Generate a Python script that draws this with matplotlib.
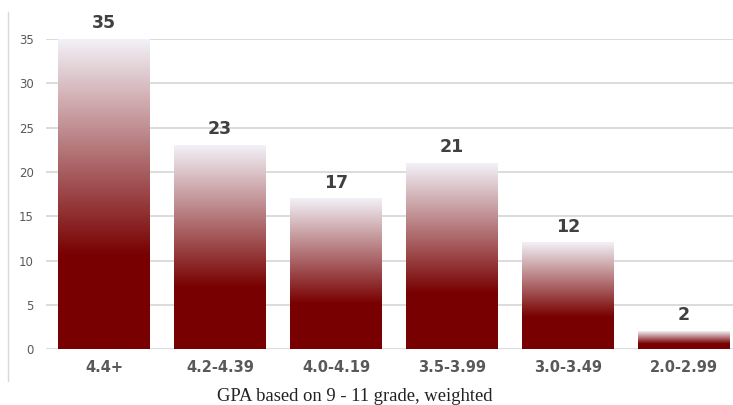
import numpy as np
import matplotlib.pyplot as plt
from matplotlib.colors import LinearSegmentedColormap
from matplotlib.lines import Line2D

plt.rcParams['font.family'] = ['DejaVu Sans']

# GPA ranges and number of students in each
gpa_ranges = ["4.4+", "4.2-4.39", "4.0-4.19", "3.5-3.99", "3.0-3.49", "2.0-2.99"]
counts = [35, 23, 17, 21, 12, 2]
y_ticks = [0, 5, 10, 15, 20, 25, 30, 35]
title = "GPA based on 9 - 11 grade, weighted"

# dark red at the bottom fading to near white at the top of each bar
grad = LinearSegmentedColormap.from_list(
    "bar_grad", [(0.0, "#780000"), (0.3, "#780000"), (1.0, "#f2f1f7")])

fig = plt.figure(figsize=(7.33, 4.05), dpi=100)
ax = fig.add_axes([0.0628, 0.138, 0.9372, 0.7654])

x = np.arange(len(gpa_ranges))
width = 0.79
bars = ax.bar(x, counts, width=width, color="none", zorder=2)

# fill every bar with a vertical gradient
g = np.linspace(0, 1, 256).reshape(-1, 1)
for b in bars:
    x0, y0 = b.get_x(), b.get_y()
    ax.imshow(g, cmap=grad, origin="lower", aspect="auto", zorder=2,
              extent=[x0, x0 + b.get_width(), y0, y0 + b.get_height()],
              interpolation="bicubic")

for xi, c in zip(x, counts):
    ax.annotate(str(c), (xi, c), xytext=(0, 5), textcoords="offset points",
                ha="center", va="bottom", fontsize=12.5, fontweight="bold",
                color="#404040", annotation_clip=False)

ax.set_xlim(-0.5, 5.422)
ax.set_ylim(0, 35)
ax.set_yticks(y_ticks)
ax.set_xticks(x)
ax.set_xticklabels(gpa_ranges, fontsize=10.5, fontweight="bold", color="#595959")
ax.tick_params(axis="y", length=0, pad=9, labelsize=8.5, labelcolor="#595959")
ax.tick_params(axis="x", length=0, pad=8)
ax.grid(axis="y", color="#d9d9d9", linewidth=1.3, zorder=0)
ax.set_axisbelow(True)
for s in ax.spines.values():
    s.set_visible(False)

# thin frame line at the left of the picture
fig.add_artist(Line2D([0.011, 0.011], [0.06, 0.97], color="#d9d9d9", linewidth=1))

fig.text(0.484, 0.02, title, ha="center", va="center", fontsize=13.4,
         family="Liberation Serif", color="#222222")

plt.savefig("out.png", dpi=100)
